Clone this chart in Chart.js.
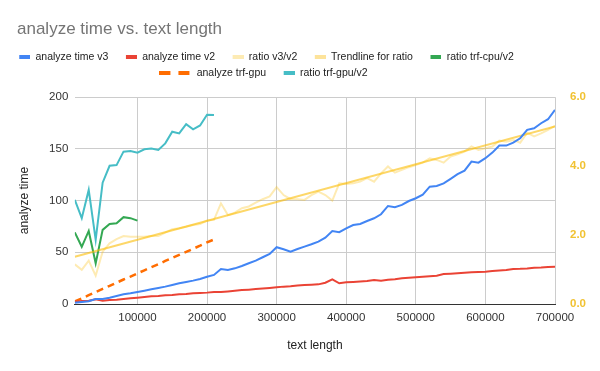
<!DOCTYPE html>
<html>
<head>
<meta charset="utf-8">
<script src="https://cdn.jsdelivr.net/npm/chart.js@4/dist/chart.umd.min.js"></script>
<style>
	body { margin:0; background:#fff; }
	#wrap { position:relative; width:600px; height:371px; }
</style>
</head>
<body>
<div id="wrap"><canvas id="c"></canvas></div>
<script>
// text length (x)
const textLength = [10000,20000,30000,40000,50000,60000,70000,80000,90000,100000,
	110000,120000,130000,140000,150000,160000,170000,180000,190000,200000,
	210000,220000,230000,240000,250000,260000,270000,280000,290000,300000,
	310000,320000,330000,340000,350000,360000,370000,380000,390000,400000,
	410000,420000,430000,440000,450000,460000,470000,480000,490000,500000,
	510000,520000,530000,540000,550000,560000,570000,580000,590000,600000,
	610000,620000,630000,640000,650000,660000,670000,680000,690000,700000]

const timeV3 = [1.3,2.0,2.6,4.8,4.8,6.1,7.7,9.4,10.3,11.6,
	12.9,14.2,15.5,16.8,18.4,20.0,21.3,22.6,24.2,26.4,
	28.1,33.9,32.9,34.5,36.8,39.4,41.9,45.2,48.4,54.9,
	52.9,50.6,53.2,55.5,57.8,60.3,64.2,70.6,69.4,73.2,
	76.4,77.4,80.3,82.9,86.8,94.8,93.6,95.8,99.6,102.3,
	105.8,113.5,114.2,116.7,121.0,125.5,129.0,137.7,136.7,141.0,
	146.4,153.2,153.2,156.1,160.3,168.4,170.0,174.8,178.7,187.7]

const timeV2 = [2.3,2.9,3.2,4.5,3.2,3.9,4.2,4.8,5.5,6.1,
	6.8,7.4,7.7,8.4,8.7,9.4,9.7,10.3,10.6,11.0,
	11.6,11.6,12.2,12.8,13.5,13.9,14.4,14.9,15.5,16.2,
	16.8,17.2,17.8,18.4,18.7,19.0,20.6,23.9,20.0,21.0,
	21.3,21.7,22.2,23.3,22.6,23.4,23.9,24.8,25.3,25.8,
	26.3,26.8,27.4,29.0,29.3,29.7,30.2,30.6,31.0,31.3,
	31.8,32.4,32.8,33.9,34.0,34.4,35.1,35.3,35.7,36.1]

const ratioV3V2 = [1.15,0.99,1.26,0.82,1.52,1.76,1.88,1.97,1.95,1.95,
	1.95,1.97,1.97,2.07,2.17,2.20,2.24,2.29,2.32,2.42,
	2.44,2.92,2.58,2.65,2.78,2.83,2.94,3.04,3.12,3.39,
	3.16,3.04,3.04,3.02,3.16,3.26,3.16,3.00,3.50,3.48,
	3.50,3.55,3.65,3.55,3.79,3.99,3.81,3.89,3.97,4.03,
	4.10,4.23,4.18,4.10,4.28,4.34,4.42,4.57,4.47,4.52,
	4.57,4.74,4.71,4.76,4.68,4.97,4.86,4.95,5.05,5.17]

const trendX = [10000, 700000]
const trendRatio = [1.37, 5.15]

// trf runs only up to ~210000
const ratioCpuV2 = [2.08,1.66,2.12,1.18,2.15,2.32,2.34,2.52,2.49,2.42]
const timeTrfGpu = [2.6,5.4,8.5,11.6,14.6,17.5,20.6,23.7,26.5,29.6,
	32.6,35.6,38.5,41.6,44.6,47.5,50.4,53.4,56.4,59.6,62.4]
const ratioGpuV2 = [3.02,2.49,3.31,1.86,3.52,4.01,4.03,4.42,4.44,4.39,
	4.49,4.51,4.47,4.66,5.00,4.95,5.22,5.07,5.18,5.49,5.48]

const xTicks = [100000,200000,300000,400000,500000,600000,700000]
const leftTicks = [0,50,100,150,200]
const rightTicks = [0,2,4,6]

const pts = (xs, ys) => ys.map((y, i) => ({x: xs[i], y}))

// legend markers: 12px blank then the swatch, so items get google-like spacing
const mark = (color, dashed) => {
	const c = document.createElement('canvas')
	c.width = dashed ? 41 : 23
	c.height = 4
	const g = c.getContext('2d')
	g.fillStyle = color
	if (dashed) {
		g.fillRect(0, 0, 11, 4)
		g.fillRect(19, 0, 11, 4)
	} else {
		g.fillRect(12, 0, 11, 4)
	}
	return c
}

const line = (label, data, color, axis, extra) => Object.assign({
	label, data, borderColor: color, backgroundColor: color, yAxisID: axis,
	borderWidth: 2, pointRadius: 0, tension: 0, fill: false,
}, extra || {})

const datasets = [
	line('analyze time v3', pts(textLength, timeV3), '#4285F4', 'y'),
	line('analyze time v2', pts(textLength, timeV2), '#EA4335', 'y'),
	line('ratio v3/v2', pts(textLength, ratioV3V2), 'rgba(251,188,4,0.3)', 'y2'),
	line('Trendline for ratio', pts(trendX, trendRatio), 'rgba(251,188,4,0.6)', 'y2'),
	line('ratio trf-cpu/v2', pts(textLength, ratioCpuV2), '#34A853', 'y2'),
	line('analyze trf-gpu', pts(textLength, timeTrfGpu), '#FF6D01', 'y', {borderDash: [7,5], borderWidth: 2.5}),
	line('ratio trf-gpu/v2', pts(textLength, ratioGpuV2), '#46BDC6', 'y2'),
]
const markers = [
	mark('#4285F4'), mark('#EA4335'), mark('#FDEBB4'), mark('#FDE39A'),
	mark('#34A853'), mark('#FF6D01', true), mark('#46BDC6'),
]

// move legend rows to where google puts them (row 2 starts with the wide dashed marker)
const shiftLegend = {
	id: 'shiftLegend',
	afterLayout: ch => {
		const l = ch.legend
		l.left -= 48; l.right -= 48
		if (l.lineWidths.length > 1) l.lineWidths[1] -= 15
	},
}

const font = 'Liberation Sans, Arial, sans-serif'

new Chart(document.getElementById('c'), {
	type: 'line',
	data: { datasets },
	plugins: [shiftLegend],
	options: {
		responsive: true,
		maintainAspectRatio: false,
		animation: false,
		layout: { padding: {left: 17, right: 0, top: 0, bottom: 0} },
		plugins: {
			title: {
				display: true, text: 'analyze time vs. text length', align: 'start',
				color: '#757575', font: {family: font, size: 17, weight: 'normal'},
				padding: {top: 18.8, bottom: 7},
			},
			legend: {
				position: 'top',
				labels: {
					font: {family: font, size: 10.5, weight: 'normal'}, color: '#222',
					usePointStyle: true, pointStyleWidth: 23, padding: 5.5,
					generateLabels: ch => Chart.defaults.plugins.legend.labels.generateLabels(ch)
						.map((l, i) => Object.assign(l, {pointStyle: markers[i], lineDash: []})),
				},
			},
			tooltip: { enabled: false },
		},
		scales: {
			x: {
				type: 'linear', min: 10000, max: 700000,
				afterBuildTicks: s => { s.ticks = xTicks.map(v => ({value: v})) },
				afterFit: s => { s.height = 67 },
				ticks: { color: '#333', font: {family: font, size: 11.5}, padding: 6.5, maxRotation: 0, callback: v => String(v) },
				grid: { color: '#ccc', drawTicks: false },
				border: { color: '#333' },
				title: { display: true, text: 'text length', color: '#222', font: {family: font, size: 12}, padding: {top: 0, bottom: 18} },
			},
			gap: {
				type: 'linear', axis: 'x', position: 'top',
				ticks: { display: false }, grid: { display: false }, border: { display: false },
				afterFit: s => { s.height = 9 },
			},
			y: {
				type: 'linear', position: 'left', min: 0, max: 200,
				afterBuildTicks: s => { s.ticks = leftTicks.map(v => ({value: v})) },
				afterFit: s => { s.width = 57.8 },
				ticks: { color: '#333', font: {family: font, size: 11.5}, padding: 6.5 },
				grid: { color: '#ccc', drawTicks: false },
				border: { display: false },
				title: { display: true, text: 'analyze time', color: '#222', font: {family: font, size: 12}, padding: 0 },
			},
			y2: {
				type: 'linear', position: 'right', min: 0, max: 6,
				afterBuildTicks: s => { s.ticks = rightTicks.map(v => ({value: v})) },
				afterFit: s => { s.width = 45 },
				ticks: { color: '#F1C232', font: {family: font, size: 11.5, weight: 'bold'}, padding: 7, callback: v => v.toFixed(1) },
				grid: { display: false },
				border: { display: false },
			},
		},
	},
})
</script>
</body>
</html>
